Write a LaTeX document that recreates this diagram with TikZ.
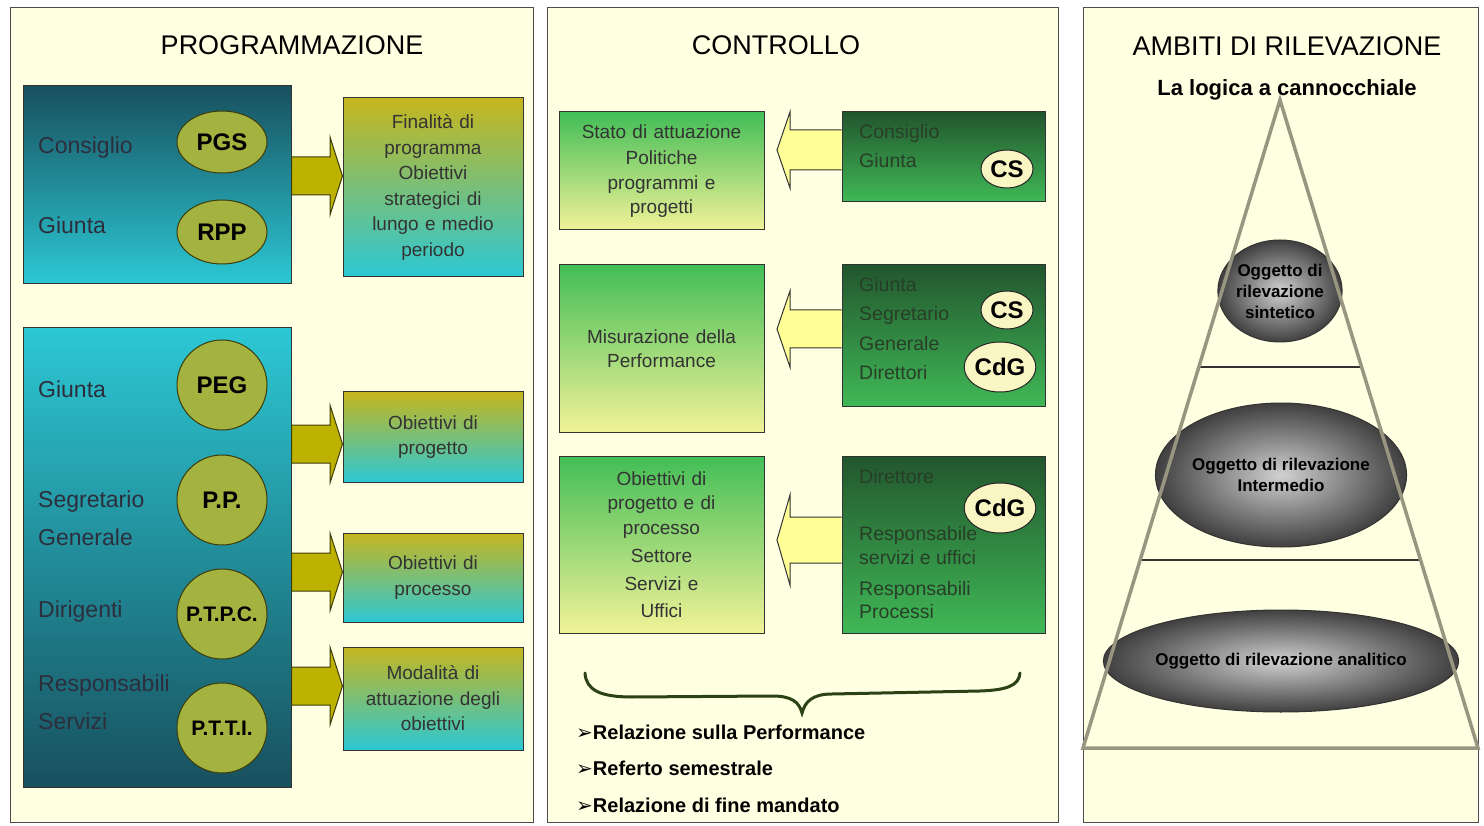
\documentclass[tikz,border=0pt]{standalone}
\usepackage{fontspec}
\setmainfont{Liberation Sans}
\newfontfamily\dingfont{DejaVu Sans}
\usetikzlibrary{arrows,positioning,shapes.geometric}

\definecolor{panelbg}{RGB}{255,255,226}
\definecolor{tealdark}{RGB}{24,80,94}
\definecolor{tealcyan}{RGB}{44,200,212}
\definecolor{olivebox}{RGB}{198,182,30}
\definecolor{oliveell}{RGB}{164,178,64}
\definecolor{olivearrow}{RGB}{190,178,0}
\definecolor{olivedark}{RGB}{60,60,10}
\definecolor{labelgray}{RGB}{44,46,60}
\definecolor{greentop}{RGB}{66,190,86}
\definecolor{greenbot}{RGB}{242,242,152}
\definecolor{dkgreentop}{RGB}{34,86,46}
\definecolor{dkgreenbot}{RGB}{64,184,86}
\definecolor{actortext}{RGB}{40,62,40}
\definecolor{paleyellow}{RGB}{255,255,150}
\definecolor{creamell}{RGB}{250,246,196}
\definecolor{conegray}{RGB}{152,150,128}
\definecolor{bracegreen}{RGB}{44,66,20}

\begin{document}
\begin{tikzpicture}[x=1pt,y=-1pt,
  panel/.style={draw=black!70,fill=panelbg,line width=1pt},
  title/.style={inner sep=0pt,font=\fontsize{27}{30}\selectfont},
  orgbox/.style={draw=black!80,line width=1pt,inner sep=0pt,minimum width=268pt},
  lbl/.style={anchor=west,inner sep=0pt,text=labelgray,font=\fontsize{23}{26}\selectfont},
  orgell/.style={ellipse,draw=olivedark,line width=1pt,fill=oliveell,inner sep=0pt,
    minimum width=90pt,minimum height=62pt,font=\bfseries\fontsize{24}{26}\selectfont},
  orgcirc/.style={circle,draw=olivedark,line width=1pt,fill=oliveell,inner sep=0pt,
    minimum size=90pt,font=\bfseries\fontsize{24}{26}\selectfont},
  goalbox/.style={draw=black!80,line width=1pt,top color=olivebox,bottom color=tealcyan,
    minimum width=180pt,text width=172pt,align=center,inner sep=0pt,text=black!80,
    font=\fontsize{19}{25.5}\selectfont},
  olarrow/.style={draw=olivedark,fill=olivearrow,line width=1pt,line join=miter},
  statebox/.style={draw=black!80,line width=1pt,top color=greentop,bottom color=greenbot,
    minimum width=205pt,text width=196pt,align=center,inner sep=0pt,text=black!80,
    font=\fontsize{19}{24.5}\selectfont},
  actorbox/.style={draw=black!80,line width=1pt,top color=dkgreentop,bottom color=dkgreenbot,
    minimum width=203pt,inner sep=0pt},
  actlbl/.style={anchor=west,inner sep=0pt,text=actortext,font=\fontsize{19.5}{22}\selectfont},
  badge/.style={ellipse,draw=black!85,line width=1pt,fill=creamell,inner sep=0pt,
    font=\bfseries\fontsize{24}{26}\selectfont},
  ylarrow/.style={draw=black!80,fill=paleyellow,line width=1pt,line join=miter},
  brace/.style={draw=bracegreen,line width=3pt,line cap=round},
  report/.style={anchor=west,inner sep=0pt,font=\bfseries\fontsize{20}{22}\selectfont},
  cone/.style={draw=conegray,line width=3.5pt,line join=miter},
  tier/.style={draw=black!80,line width=1.2pt},
  objell/.style={ellipse,draw=black!80,line width=1pt,inner color=black!18,outer color=black!75,
    inner sep=0pt,align=center,font=\bfseries\fontsize{17}{21}\selectfont}]

\useasboundingbox (0,0) rectangle (1484,826);
\fill[white] (0,0) rectangle (1484,826);

% panels
\draw[panel] (10,8) rectangle (533,822);
\draw[panel] (547,8) rectangle (1058,822);
\draw[panel] (1083,8) rectangle (1478,822);

\node[title] (t1) at (292,45) {PROGRAMMAZIONE};
\node[title] (t2) at (776,45) {CONTROLLO};
\node[title] (t3) at (1287,46) {AMBITI DI RILEVAZIONE};
\node[inner sep=0pt,font=\bfseries\fontsize{22}{24}\selectfont] (t4) at (1287,90) {La logica a cannocchiale};

% programmazione
\node[orgbox,minimum height=198pt,top color=tealdark,bottom color=tealcyan] (org1) at (157,185) {};
\node[orgbox,minimum height=459pt,top color=tealcyan,bottom color=tealdark] (org2) at (157,557.5) {};

\node[lbl] (l1) at (38,148) {Consiglio};
\node[lbl] (l2) at (38,225) {Giunta};
\node[lbl] (l3) at (38,389) {Giunta};
\node[lbl] (l4) at (38,502) {Segretario};
\node[lbl] (l5) at (38,537) {Generale};
\node[lbl] (l6) at (38,612) {Dirigenti};
\node[lbl] (l7) at (38,686) {Responsabili};
\node[lbl] (l8) at (38,721) {Servizi};

\node[orgell] (pgs) at (222,142) {PGS};
\node[orgell,minimum height=64pt] (rpp) at (222,232) {RPP};
\node[orgcirc] (peg) at (222,385) {PEG};
\node[orgcirc] (pp) at (222,500) {P.P.};
\node[orgcirc,font=\bfseries\fontsize{21}{24}\selectfont] (ptpc) at (222,614) {P.T.P.C.};
\node[orgcirc,font=\bfseries\fontsize{21}{24}\selectfont] (ptti) at (222,728) {P.T.T.I.};

\node[goalbox,minimum height=179pt] (fin) at (433,187.5) {Finalità di\\programma\\Obiettivi\\strategici di\\lungo e medio\\periodo};
\node[goalbox,minimum height=90pt] (prog) at (433,437) {Obiettivi di\\progetto\\[8pt]};
\node[goalbox,minimum height=89pt] (proc) at (433,577.5) {Obiettivi di\\processo\\[8pt]};
\node[goalbox,minimum height=103pt] (mod) at (433,698.5) {Modalità di\\attuazione degli\\obiettivi\\[6pt]};

\foreach \src/\dst/\cy in {org1/fin/176,org2/prog/444,org2/proc/572,org2/mod/686}
  \draw[olarrow] (\src.east |- 0,\cy-19) -- (330,\cy-19) -- (330,\cy-39) -- (\dst.west |- 0,\cy)
    -- (330,\cy+39) -- (330,\cy+19) -- (\src.east |- 0,\cy+19) -- cycle;

% controllo
\node[statebox,minimum height=118pt] (s1) at (661.5,171) {Stato di attuazione\\[2pt]Politiche\\programmi e\\progetti};
\node[statebox,minimum height=167pt] (s2) at (661.5,348.5) {Misurazione della\\Performance};
\node[statebox,minimum height=177pt] (s3) at (661.5,544.5) {Obiettivi di\\progetto e di\\processo\\[4pt]Settore\\[3pt]Servizi e\\[3pt]Uffici};

\node[actorbox,minimum height=90pt] (r1) at (943.5,157) {};
\node[actorbox,minimum height=141pt] (r2) at (943.5,335.5) {};
\node[actorbox,minimum height=177pt] (r3) at (943.5,544.5) {};

\node[actlbl] (a1) at (859,133) {Consiglio};
\node[actlbl] (a2) at (859,161) {Giunta};
\node[actlbl] (a3) at (859,285) {Giunta};
\node[actlbl] (a4) at (859,315) {Segretario};
\node[actlbl] (a5) at (859,344) {Generale};
\node[actlbl] (a6) at (859,373) {Direttori};
\node[actlbl] (a7) at (859,477) {Direttore};
\node[actlbl] (a8) at (859,535) {Responsabile};
\node[actlbl] (a9) at (859,558) {servizi e uffici};
\node[actlbl] (a10) at (859,590) {Responsabili};
\node[actlbl] (a11) at (859,612) {Processi};

\node[badge,minimum width=52pt,minimum height=38pt] (cs1) at (1007,169) {CS};
\node[badge,minimum width=52pt,minimum height=38pt] (cs2) at (1007,310) {CS};
\node[badge,minimum width=64pt,minimum height=50pt] (cdg1) at (1000,367) {CdG};
\node[badge,minimum width=64pt,minimum height=50pt] (cdg2) at (1000,508) {CdG};

\foreach \src/\cy/\sh/\hd in {r1/150/20/38,r2/329/19/38,r3/540/23/45}
  \draw[ylarrow] (\src.west |- 0,\cy-\sh) -- (790,\cy-\sh) -- (790,\cy-\hd) -- (777,\cy)
    -- (790,\cy+\hd) -- (790,\cy+\sh) -- (\src.west |- 0,\cy+\sh);

\draw[brace] (585,673) .. controls (586,690) and (600,697) .. (632,697) -- (772,696)
  .. controls (792,696) and (799,702) .. (802,713) .. controls (805,702) and (812,694) .. (832,694)
  -- (980,691) .. controls (1006,690) and (1019,686) .. (1020,673);

\node[report] (b1) at (576,732) {{\dingfont\fontsize{20}{22}\selectfont ➢}Relazione sulla Performance};
\node[report] (b2) at (576,768) {{\dingfont\fontsize{20}{22}\selectfont ➢}Referto semestrale};
\node[report] (b3) at (576,805) {{\dingfont\fontsize{20}{22}\selectfont ➢}Relazione di fine mandato};

% ambiti di rilevazione
\coordinate (apex) at (1280,100);
\coordinate (bl) at (1083,748);
\coordinate (br) at (1478,748);
\draw[tier] (1199,367) -- (1362,367);
\draw[tier] (1140,560) -- (1420,560);
\node[objell,minimum width=114pt,minimum height=102pt] (e1) at (1280,291) {Oggetto di\\rilevazione\\sintetico};
\node[objell,minimum width=218pt,minimum height=144pt] (e2) at (1281,475) {Oggetto di rilevazione\\Intermedio};
\node[objell,minimum width=322pt,minimum height=102pt] (e3) at (1281,661) {Oggetto di rilevazione analitico};
\draw[cone] (apex) -- (br) -- (bl) -- cycle;

\end{tikzpicture}
\end{document}
